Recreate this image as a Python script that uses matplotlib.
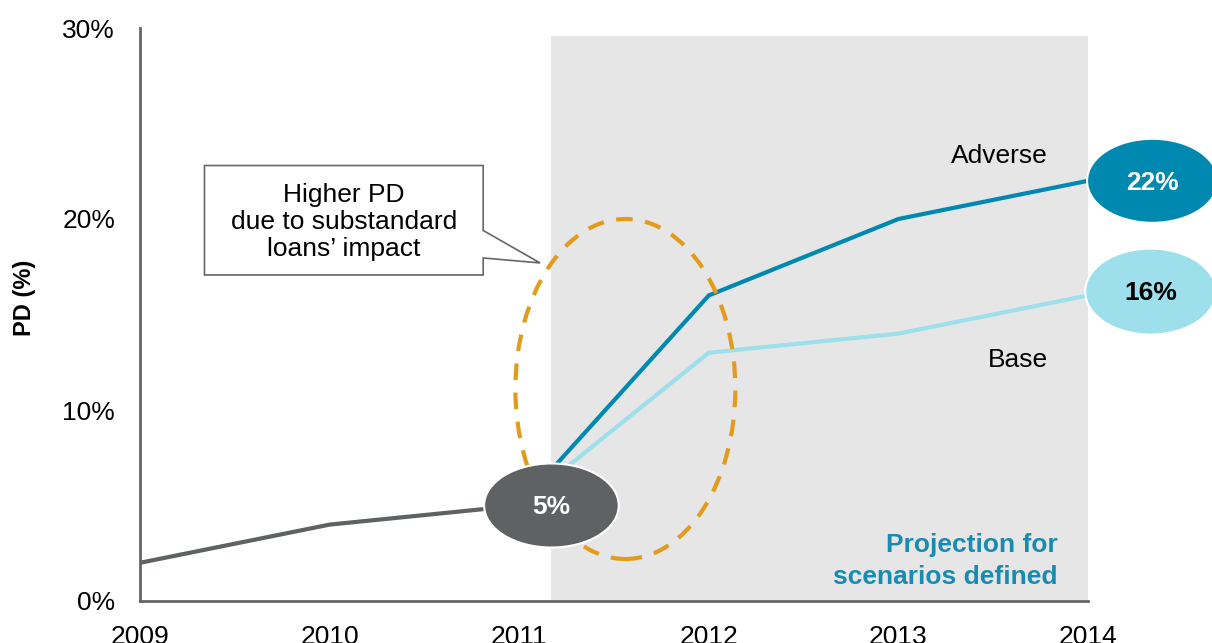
import matplotlib
matplotlib.use('Agg')
import matplotlib.pyplot as plt
from matplotlib.patches import Ellipse, Polygon

# =============================================================================
# Data
# =============================================================================

years_hist = [2009, 2010, 2011]
pd_hist = [2.0, 4.0, 5.0]

years_proj = [2011, 2012, 2013, 2014]
pd_adverse = [5.0, 16.0, 20.0, 22.0]
pd_base = [5.0, 13.0, 14.0, 16.0]

yticks = [0, 10, 20, 30]
ytick_labels = ['0%', '10%', '20%', '30%']
xticks = [2009, 2010, 2011, 2012, 2013, 2014]

# colours
c_hist = '#5e6262'
c_adverse = '#0089b0'
c_base = '#9edfec'
c_shade = '#e6e6e6'
c_orange = '#e39b1c'
c_axis = '#666666'

plt.rcParams['font.family'] = ['Liberation Sans', 'DejaVu Sans']

# =============================================================================
# Plot
# =============================================================================

fig = plt.figure(figsize=(12.12, 6.43), dpi=100)
ax = fig.add_axes([140/1212, 1 - 601/643, (1088-140)/1212, (601-28)/643])

ax.set_xlim(2009, 2014)
ax.set_ylim(0, 30)

# projection background
ax.axvspan(2011.17, 2014, ymin=0, ymax=29.6/30, color=c_shade, lw=0, zorder=0)

ax.plot(years_proj, pd_base, color=c_base, lw=3, zorder=3, solid_capstyle='butt')
ax.plot(years_proj, pd_adverse, color=c_adverse, lw=3, zorder=3, solid_capstyle='butt')
ax.plot(years_hist, pd_hist, color=c_hist, lw=3, zorder=3)

# dashed highlight ellipse
ax.add_patch(Ellipse((2011.56, 11.1), 1.16, 17.8, fill=False, ec=c_orange,
                     lw=3, ls=(0, (4, 3)), zorder=4))

# value bubbles
bubbles = [
    (2011.17, pd_hist[-1], 0.71, 4.4, c_hist, 'white'),
    (2014.34, pd_adverse[-1], 0.69, 4.4, c_adverse, 'white'),
    (2014.33, pd_base[-1] + 0.2, 0.69, 4.5, c_base, 'black'),
]
for x, y, w, h, fc, tc in bubbles:
    ax.add_patch(Ellipse((x, y), w, h, fc=fc, ec='white', lw=1.5,
                         zorder=5, clip_on=False))
    ax.text(x, y - 0.1, f'{round(y)}%', ha='center', va='center', fontsize=19,
            fontweight='bold', color=tc, zorder=6, clip_on=False)

# callout box
callout = Polygon([(2009.34, 22.8), (2010.81, 22.8), (2010.81, 19.4),
                   (2011.11, 17.7), (2010.81, 17.96), (2010.81, 17.07),
                   (2009.34, 17.07)], closed=True, fc='white', ec=c_axis,
                  lw=1.2, zorder=4)
ax.add_patch(callout)
ax.text(2010.075, 19.85, 'Higher PD\ndue to substandard\nloans\u2019 impact',
        ha='center', va='center', fontsize=19, linespacing=1.15, zorder=5)

# scenario labels
ax.text(2013.53, 23.3, 'Adverse', ha='center', va='center', fontsize=19)
ax.text(2013.63, 12.6, 'Base', ha='center', va='center', fontsize=19)
ax.text(2013.84, 2.1, 'Projection for\nscenarios defined', ha='right',
        va='center', fontsize=19, fontweight='bold', color='#1a8bb0',
        linespacing=1.4)

# axes styling
for s in ['top', 'right']:
    ax.spines[s].set_visible(False)
for s in ['left', 'bottom']:
    ax.spines[s].set_color(c_axis)
    ax.spines[s].set_linewidth(2)
ax.set_yticks(yticks)
ax.set_yticklabels(ytick_labels)
ax.set_xticks(xticks)
ax.tick_params(axis='both', length=0, labelsize=19)
ax.tick_params(axis='y', pad=18)
ax.tick_params(axis='x', pad=17)
ax.set_ylabel('PD (%)', fontsize=17, fontweight='bold')
ax.yaxis.set_label_coords(-104/948, (601-298)/573)

fig.savefig('out.png', dpi=100)
